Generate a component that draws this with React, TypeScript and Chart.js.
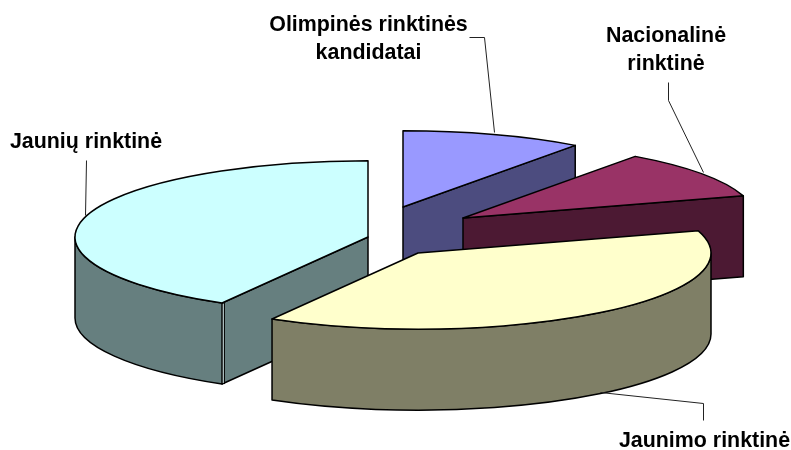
import React, { useEffect, useRef } from "react";
import { Chart, registerables } from "chart.js";

Chart.register(...registerables);

const categories = ["Olimpinės rinktinės kandidatai", "Nacionalinė rinktinė", "Jaunimo rinktinė", "Jaunių rinktinė"];
const shares = [10, 10.3, 38, 41.7];
const faceColors = ["#9999FF", "#993366", "#FFFFCC", "#CCFFFF"];
const wallColors = ["#4C4C7F", "#4C1933", "#7F7F66", "#667F7F"];

// Explosion of each slice, in pixels from the pie's centre
const explodeX = [7.5, 67.5, 22.5, -27.5];
const explodeY = [-18, -7, 28, 12];

const RADIUS = 293;
const SQUASH = 0.26;
const DEPTH = 81;
const FONT = "bold 21.4px 'Liberation Sans', Arial, sans-serif";

const labelLines = [
  { lines: ["Olimpinės rinktinės", "kandidatai"], x: 368.5, y: 25.5, dy: 28 },
  { lines: ["Nacionalinė", "rinktinė"], x: 666, y: 36, dy: 28.5 },
  { lines: ["Jaunimo rinktinė"], x: 704.5, y: 441.5, dy: 0 },
  { lines: ["Jaunių rinktinė"], x: 86, y: 142.5, dy: 0 },
];
const leaders = [
  [[469, 37], [484, 37], [494, 132]],
  [[668, 82], [668, 100], [703, 172]],
  [[600, 392], [703, 403], [703, 420]],
  [[86, 160], [85, 215]],
];

const extrudedPie = {
  id: "extrudedPie",
  beforeDatasetsDraw(chart: any) {
    const { ctx } = chart;
    const arcs = chart.getDatasetMeta(0).data;
    const order = arcs.map((_: any, i: number) => i).sort((p: number, q: number) => explodeY[p] - explodeY[q]);
    ctx.save();
    ctx.lineWidth = 1.5;
    ctx.strokeStyle = "#000";
    ctx.lineJoin = "round";
    for (const i of order) {
      const arc = arcs[i];
      const { x, y, startAngle: a, endAngle: b, outerRadius: r } = arc.getProps(["x", "y", "startAngle", "endAngle", "outerRadius"]);
      const ax = x + explodeX[i];
      const ay = y + explodeY[i];
      const ry = r * SQUASH;
      ctx.fillStyle = wallColors[i];
      const radial = (t: number) => {
        const px = ax + r * Math.cos(t);
        const py = ay + ry * Math.sin(t);
        ctx.beginPath();
        ctx.moveTo(ax, ay);
        ctx.lineTo(px, py);
        ctx.lineTo(px, py + DEPTH);
        ctx.lineTo(ax, ay + DEPTH);
        ctx.closePath();
        ctx.fill();
        ctx.stroke();
      };
      if (Math.cos(a) < -1e-6) radial(a);
      if (Math.cos(b) > 1e-6) radial(b);
      const lo = Math.max(a, 0);
      const hi = Math.min(b, Math.PI);
      if (lo < hi) {
        ctx.beginPath();
        ctx.ellipse(ax, ay, r, ry, 0, lo, hi);
        ctx.ellipse(ax, ay + DEPTH, r, ry, 0, hi, lo, true);
        ctx.closePath();
        ctx.fill();
        ctx.stroke();
        // The pale seam where the rim wall meets a visible cut face
        if (Math.cos(a) < -1e-6 && a > 0 && a < Math.PI) {
          const sx = ax + r * Math.cos(a) + 1.2;
          const sy = ay + ry * Math.sin(a);
          ctx.save();
          ctx.lineWidth = 1;
          ctx.strokeStyle = "#000";
          ctx.beginPath();
          ctx.moveTo(sx + 1.2, sy);
          ctx.lineTo(sx + 1.2, sy + DEPTH);
          ctx.stroke();
          ctx.strokeStyle = "#C8D8D8";
          ctx.beginPath();
          ctx.moveTo(sx, sy + 1);
          ctx.lineTo(sx, sy + DEPTH - 1);
          ctx.stroke();
          ctx.restore();
        }
      }
      ctx.save();
      ctx.translate(ax, ay);
      ctx.scale(1, SQUASH);
      ctx.translate(-x, -y);
      arc.draw(ctx);
      ctx.restore();
      ctx.beginPath();
      ctx.moveTo(ax, ay);
      ctx.ellipse(ax, ay, r, ry, 0, a, b);
      ctx.closePath();
      ctx.stroke();
    }
    ctx.lineWidth = 1;
    ctx.strokeStyle = "#222";
    for (const path of leaders) {
      ctx.beginPath();
      path.forEach(([px, py], k) => (k ? ctx.lineTo(px + 0.5, py + 0.5) : ctx.moveTo(px + 0.5, py + 0.5)));
      ctx.stroke();
    }
    ctx.fillStyle = "#000";
    ctx.font = FONT;
    ctx.textAlign = "center";
    ctx.textBaseline = "middle";
    labelLines.forEach((l) => l.lines.forEach((t, k) => ctx.fillText(t, l.x, l.y + k * l.dy)));
    ctx.restore();
    return false;
  },
};

export default function App() {
  const ref = useRef<HTMLCanvasElement>(null);
  useEffect(() => {
    const chart = new Chart(ref.current!, {
      type: "pie",
      data: {
        labels: categories,
        datasets: [{ data: shares, backgroundColor: faceColors, borderWidth: 0 }],
      },
      options: {
        responsive: false,
        animation: false,
        devicePixelRatio: 1,
        radius: RADIUS,
        events: [],
        plugins: { legend: { display: false }, tooltip: { enabled: false } },
      },
      plugins: [extrudedPie],
    } as any);
    return () => chart.destroy();
  }, []);
  return (
    <canvas
      ref={ref}
      width={791}
      height={450}
      style={{ position: "absolute", left: 0, top: 0, background: "#fff" }}
    />
  );
}
